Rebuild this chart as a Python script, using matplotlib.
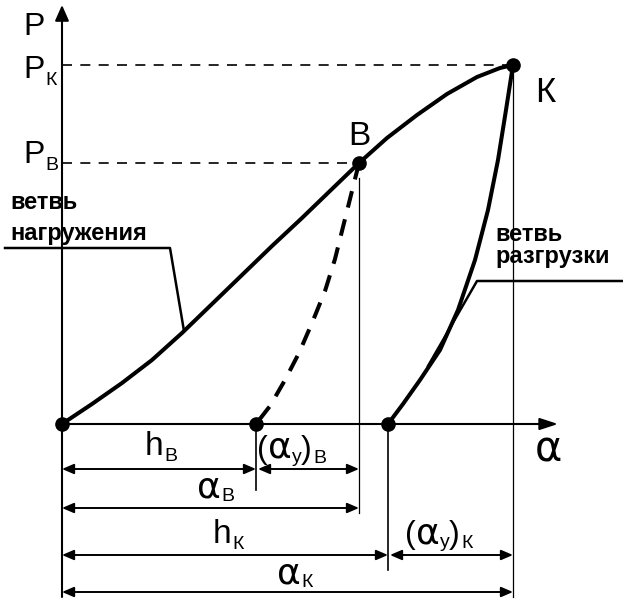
import matplotlib
matplotlib.use('Agg')
import matplotlib.pyplot as plt

# ---- data (diagram units: alpha to the right, P upward, origin at axes cross) ----
h_B, alpha_B, P_B = 194, 297, 261
h_K, alpha_K, P_K = 326, 451, 359

load_alpha = [0, 30, 60, 90, 120, 150, 180, 210, 240, 270, 297, 325, 355, 385, 415, 438, 451]
load_P     = [0, 20, 41, 64, 91, 120, 149, 178, 206, 235, 261, 286, 309, 330, 347, 356, 359]

unloadB_alpha = [297, 289, 281, 273, 263, 250, 237, 223, 208, 194]
unloadB_P     = [261, 229, 197, 165, 133, 101, 71, 44, 18, 0]

unloadK_alpha = [451, 444, 436, 426, 413, 396, 378, 358, 341, 326]
unloadK_P     = [359, 314, 264, 214, 164, 114, 74, 44, 20, 0]

LS = 'Liberation Sans'
DV = 'DejaVu Sans'

fig = plt.figure(figsize=(6.23, 6.0), dpi=100)
ax = fig.add_axes([0, 0, 1, 1])
ax.set_xlim(-62, 561)
ax.set_ylim(-176, 424)
ax.axis('off')


def P(px, py):
    """layout helper: picture pixel -> diagram units"""
    return px - 62, 424 - py


# axes with arrows
ax.annotate('', xy=P(62, 5), xytext=P(62, 597),
            arrowprops=dict(arrowstyle='-|>,head_length=0.95,head_width=0.42',
                            lw=1.5, color='k', shrinkA=0, shrinkB=0, mutation_scale=10))
ax.annotate('', xy=P(558, 424), xytext=(0, 0),
            arrowprops=dict(arrowstyle='-|>,head_length=1.1,head_width=0.36',
                            lw=1.5, color='k', shrinkA=0, shrinkB=0, mutation_scale=10))

# dashed level lines
ax.plot([0, alpha_K], [P_K, P_K], color='k', lw=1.2, ls=(0, (6, 5)))
ax.plot([0, alpha_B], [P_B, P_B], color='k', lw=1.2, ls=(0, (6, 5)))

# curves
ax.plot(load_alpha, load_P, color='k', lw=2.9, solid_capstyle='round', solid_joinstyle='round')
ax.plot(unloadK_alpha, unloadK_P, color='k', lw=2.9, solid_capstyle='round', solid_joinstyle='round')
ax.plot(unloadB_alpha, unloadB_P, color='k', lw=2.9, ls=(0, (4.2, 3.0)))

# thin vertical lines
row1, row2, row3, row4 = -45, -84, -131, -168
ax.plot([alpha_B, alpha_B], [P_B - 15, row2 - 5], color='k', lw=0.9)
ax.plot([alpha_K, alpha_K], [P_K, row4 - 5], color='k', lw=0.9)
ax.plot([h_B, h_B], [0, row1 - 21], color='k', lw=1.2)
ax.plot([h_K, h_K], [0, row3 - 15], color='k', lw=1.2)

# points
ax.plot([0, h_B, h_K, alpha_B, alpha_K], [0, 0, 0, P_B, P_K], 'o', color='k', ms=9.5)


def dim(x0, x1, y):
    ax.annotate('', xy=(x1, y), xytext=(x0, y),
                arrowprops=dict(arrowstyle='<|-|>,head_length=0.7,head_width=0.3',
                                lw=1.4, color='k', shrinkA=0, shrinkB=0, mutation_scale=10))


dim(0, h_B, row1)
dim(h_B + 2, alpha_B, row1)
dim(0, alpha_B, row2)
dim(0, h_K, row3)
dim(h_K + 2, alpha_K, row3)
dim(0, alpha_K, row4)

# leader lines
ax.plot([P(5, 0)[0], P(170, 0)[0], load_alpha[4] + 2], [P(0, 248)[1], P(0, 248)[1], load_P[4] + 2],
        color='k', lw=1.8)
ax.plot([P(623, 0)[0], P(477, 0)[0], 366], [P(0, 281)[1], P(0, 281)[1], 58], color='k', lw=1.8)

renderer = fig.canvas.get_renderer()


def rich(px, py, pieces):
    cur = px
    for s, size, dy, fam, dx in pieces:
        t = ax.text(*P(cur + dx, py + dy), s, fontsize=size, family=fam,
                    ha='left', va='baseline', color='k')
        bb = t.get_window_extent(renderer)
        cur = cur + dx + bb.width


# axis labels
rich(23, 35, [('P', 23, 0, LS, 0)])
rich(23, 78, [('P', 23, 0, LS, 0), ('К', 14, 7, LS, 1)])
rich(23, 163, [('P', 23, 0, LS, 0), ('В', 14, 7, LS, 1)])
rich(535, 462, [('α', 30, 0, DV, 0)])

# point labels
rich(535, 102, [('К', 25, 0, LS, 0)])
rich(348, 145, [('В', 24, 0, LS, 0)])

# branch labels
for txt, x, y in [('ветвь', 10, 209), ('нагружения', 10, 240),
                  ('ветвь', 495, 241), ('разгрузки', 495, 263)]:
    ax.text(*P(x, y), txt, fontsize=17, family=LS, fontweight='bold',
            ha='left', va='baseline')

# dimension labels
rich(145, 455, [('h', 24, 0, LS, 0), ('В', 14, 6, LS, 1)])
rich(257, 458, [('(', 23, 0, LS, 0), ('α', 26, 0, DV, 0), ('у', 14, 4, LS, 0),
                 (')', 23, 0, LS, 0), ('В', 14, 5, LS, 1)])
rich(197, 497, [('α', 26, 0, DV, 0), ('В', 14, 4, LS, 1)])
rich(213, 543, [('h', 24, 0, LS, 0), ('К', 14, 6, LS, 1)])
rich(405, 543, [('(', 23, 0, LS, 0), ('α', 26, 0, DV, 0), ('у', 14, 4, LS, 0),
                 (')', 23, 0, LS, 0), ('К', 14, 5, LS, 1)])
rich(277, 583, [('α', 26, 0, DV, 0), ('К', 14, 4, LS, 1)])

fig.savefig('out.png', dpi=100)
